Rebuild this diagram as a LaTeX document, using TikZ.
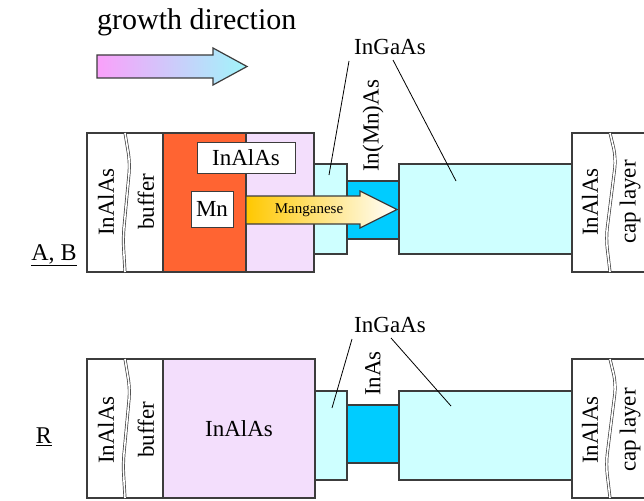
\documentclass[tikz,border=0pt]{standalone}
\usepackage{fontspec}
\setmainfont{Liberation Serif}
\definecolor{edge}{RGB}{60,60,60}
\definecolor{mnorange}{RGB}{255,100,50}
\definecolor{lav}{RGB}{243,222,252}
\definecolor{lcyan}{RGB}{206,255,255}
\definecolor{dcyan}{RGB}{0,204,255}
\definecolor{gold}{RGB}{255,200,0}
\definecolor{pinkg}{RGB}{250,160,250}
\definecolor{cyang}{RGB}{160,245,250}
\tikzset{
  blk/.style={draw=edge, line width=1.2pt, inner sep=0pt, outer sep=0pt, anchor=north west},
  lbl/.style={font=\fontsize{23}{26}\selectfont, inner sep=1pt},
  divider/.style={draw=edge, line width=0.7pt, double=white, double distance=1.6pt, rounded corners=10pt},
  leader/.style={draw=black, line width=0.8pt},
  labbox/.style={draw=edge, line width=1pt, fill=white, inner sep=0pt, outer sep=0pt, anchor=north west, font=\fontsize{23}{26}\selectfont}
}
\begin{document}
\begin{tikzpicture}[x=1pt,y=-1pt]
\clip (0,0) rectangle (644,500);
\fill[white] (0,0) rectangle (644,500);

% growth direction
\node[anchor=west, font=\fontsize{30}{34}\selectfont, inner sep=0pt] (gtext) at (97,22) {growth direction};
\path[draw=edge, line width=1.2pt, left color=pinkg, right color=cyang]
  (97,55) -- (213,55) -- (213,48) -- (247,66.5) -- (213,85) -- (213,78) -- (97,78) -- cycle;

% ===== Row A, B =====
\node[lbl, font=\fontsize{24}{27}\selectfont] (ab) at (54,255) {\underline{A, B}};
\node[blk, fill=white, minimum width=76pt, minimum height=139pt] (lboxA) at (87,133) {};
\node[blk, fill=mnorange, minimum width=83pt, minimum height=139pt] (mnA) at (163,133) {};
\node[blk, fill=lav, minimum width=68pt, minimum height=139pt] (lavA) at (246,133) {};
\node[blk, fill=lcyan, minimum width=33pt, minimum height=90pt] (ig1A) at (314,164) {};
\node[blk, fill=dcyan, minimum width=52pt, minimum height=58pt] (inmnA) at (347,181) {};
\node[blk, fill=lcyan, minimum width=173pt, minimum height=90pt] (ig2A) at (399,164) {};
\node[blk, fill=white, minimum width=90pt, minimum height=139pt] (rboxA) at (572,133) {};
\draw[divider] (125,133) -- (130,163) -- (123,238) -- (125,272);
\draw[divider] (610,133) -- (616,158) -- (606,238) -- (610,272);
\node[lbl, rotate=90] (inalasLA) at (106,202) {InAlAs};
\node[lbl, rotate=90] (bufA) at (146,202) {buffer};
\node[lbl, rotate=90] (inalasRA) at (590,202) {InAlAs};
\node[lbl, rotate=90] (capA) at (630,202) {cap layer};

\node[labbox, minimum width=98pt, minimum height=31pt] (inalasbox) at (197,142) {InAlAs};
\node[labbox, minimum width=42pt, minimum height=36pt] (mnbox) at (191,191) {Mn};

\path[draw=edge, line width=1.2pt, left color=gold, right color=white]
  (246,196) -- (360,196) -- (360,191) -- (397,209.5) -- (360,228) -- (360,224) -- (246,224) -- cycle;
\node[font=\fontsize{15}{17}\selectfont, inner sep=0pt] (mang) at (309,210) {Manganese};

\node[lbl, rotate=90, anchor=west] (inmnlbl) at (373,173) {In(Mn)As};
\node[lbl] (igA) at (390,47) {InGaAs};
\coordinate (igA1s) at (349,61);
\coordinate (igA1e) at (329,175);
\coordinate (igA2s) at (393,60);
\coordinate (igA2e) at (456,181);
\draw[leader] (igA1s) -- (igA1e);
\draw[leader] (igA2s) -- (igA2e);

% ===== Row R =====
\node[lbl, font=\fontsize{24}{27}\selectfont] (rr) at (44,437) {\underline{R}};
\node[blk, fill=white, minimum width=76pt, minimum height=139pt] (lboxR) at (87,359) {};
\node[blk, fill=lav, minimum width=152pt, minimum height=139pt] (lavR) at (163,359) {};
\node[blk, fill=lcyan, minimum width=32pt, minimum height=89pt] (ig1R) at (315,391) {};
\node[blk, fill=dcyan, minimum width=52pt, minimum height=58pt] (inasR) at (347,405) {};
\node[blk, fill=lcyan, minimum width=173pt, minimum height=89pt] (ig2R) at (399,391) {};
\node[blk, fill=white, minimum width=90pt, minimum height=139pt] (rboxR) at (572,359) {};
\draw[divider] (125,359) -- (130,389) -- (123,464) -- (125,498);
\draw[divider] (610,359) -- (616,384) -- (606,464) -- (610,498);
\node[lbl, rotate=90] (inalasLR) at (106,430) {InAlAs};
\node[lbl, rotate=90] (bufR) at (146,430) {buffer};
\node[lbl, rotate=90] (inalasRR) at (590,430) {InAlAs};
\node[lbl, rotate=90] (capR) at (630,430) {cap layer};
\node[lbl] (inalasbig) at (239,429) {InAlAs};

\node[lbl, rotate=90, anchor=west] (inaslbl) at (373,397) {InAs};
\node[lbl] (igR) at (390,325) {InGaAs};
\coordinate (igR1s) at (352,339);
\coordinate (igR1e) at (332,408);
\coordinate (igR2s) at (391,338);
\coordinate (igR2e) at (451,406);
\draw[leader] (igR1s) -- (igR1e);
\draw[leader] (igR2s) -- (igR2e);
\end{tikzpicture}
\end{document}
